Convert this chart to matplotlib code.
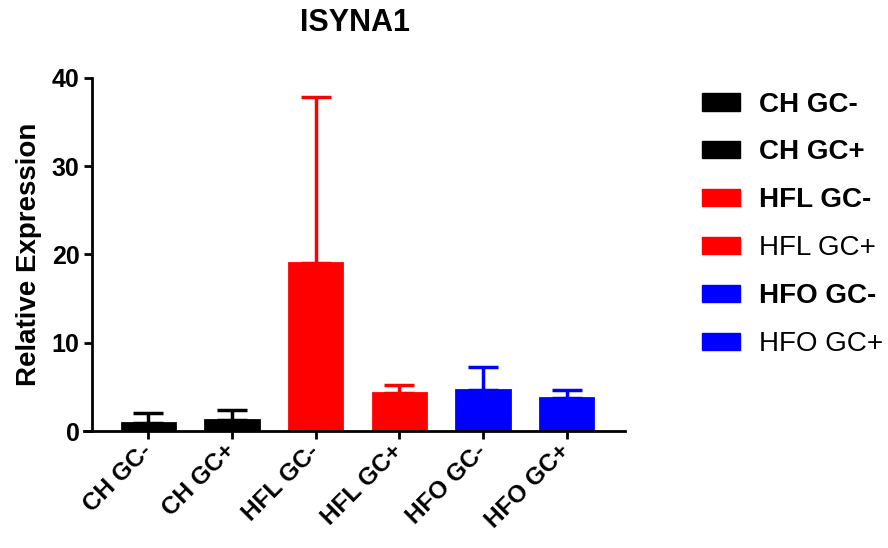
import numpy as np
import matplotlib
matplotlib.use('Agg')
import matplotlib.pyplot as plt
from matplotlib.patches import Patch

plt.rcParams['font.family'] = ['Liberation Sans', 'DejaVu Sans']

groups = ['CH GC-', 'CH GC+', 'HFL GC-', 'HFL GC+', 'HFO GC-', 'HFO GC+']
means = [0.9, 1.2, 19.0, 4.3, 4.6, 3.7]
upper = [2.0, 2.4, 37.8, 5.2, 7.2, 4.7]   # top of error bar
colors = ['black', 'black', 'red', 'red', 'blue', 'blue']
legend_bold = [True, True, True, False, True, False]
yticks = [0, 10, 20, 30, 40]

err_up = np.array(upper) - np.array(means)

fig = plt.figure(figsize=(8.88, 5.48), dpi=100)
ax = fig.add_axes([0.0946, 0.2135, 0.6093, 0.6442])

# spine position first: moving it resets the tick labels
ax.spines['top'].set_visible(False)
ax.spines['right'].set_visible(False)
ax.spines['left'].set_position(('axes', 0.0148))
ax.spines['left'].set_linewidth(2)
ax.spines['bottom'].set_linewidth(2)

x = np.arange(len(groups))
ax.bar(x, means, width=0.64, color=colors, edgecolor=colors, linewidth=2, zorder=2)
for xi, m, e, c in zip(x, means, err_up, colors):
    ax.errorbar(xi, m, yerr=[[0], [e]], fmt='none', ecolor=c, elinewidth=2.5,
                capsize=10.5, capthick=2.5, zorder=1)

ax.set_xlim(-0.77, 5.7)
ax.set_ylim(0, 40)
ax.set_yticks(yticks, labels=[str(v) for v in yticks], fontsize=18, fontweight='bold')
ax.set_xticks(x, labels=groups, rotation=45, ha='right', va='center',
              rotation_mode='anchor', fontsize=17.5, fontweight='bold')
ax.tick_params(axis='both', width=2, length=6)
ax.tick_params(axis='x', pad=6)
ax.tick_params(axis='y', pad=3)

ax.set_ylabel('Relative Expression', fontsize=20, fontweight='bold', labelpad=7)
ax.set_title('ISYNA1', fontsize=22, fontweight='bold', pad=34)

handles = [Patch(facecolor=c, edgecolor=c) for c in colors]
leg = fig.legend(handles, groups, loc='upper left', bbox_to_anchor=(0.7905, 0.833),
                 frameon=False, fontsize=20, handlelength=1.37, handleheight=0.6,
                 labelspacing=0.79, handletextpad=0.7, borderpad=0, borderaxespad=0)
for t, b in zip(leg.get_texts(), legend_bold):
    t.set_fontweight('bold' if b else 'normal')

fig.savefig('out.png', dpi=100)
